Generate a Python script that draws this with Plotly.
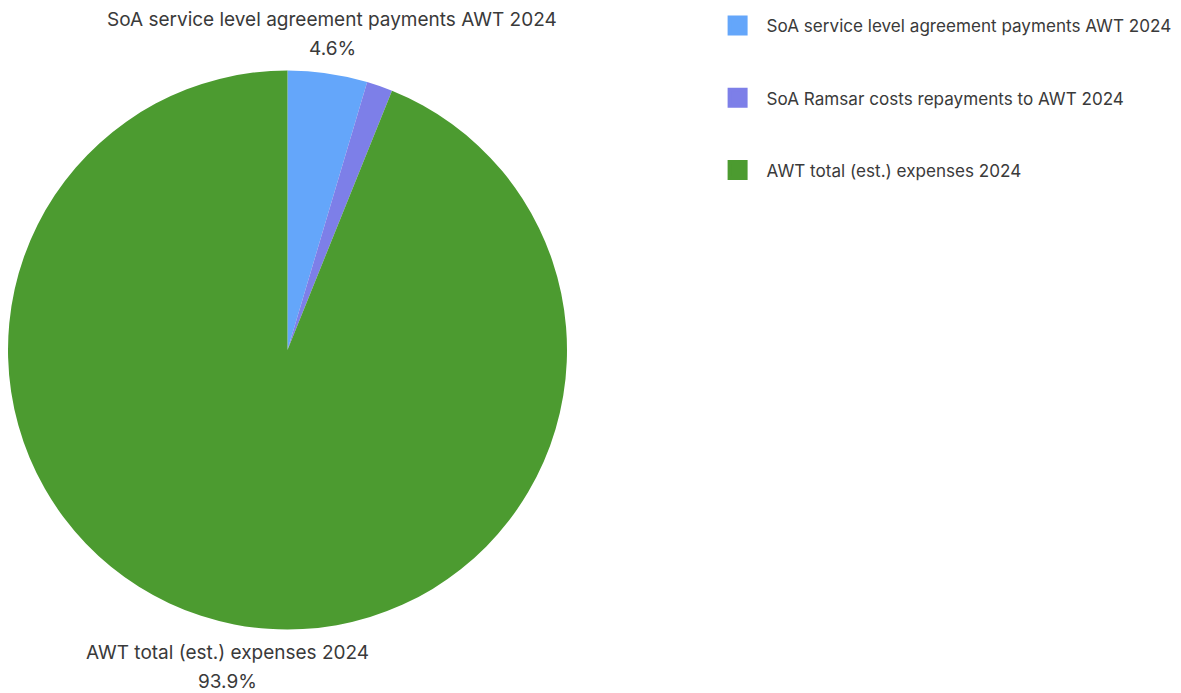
import math
import plotly.graph_objects as go

labels = ["SoA service level agreement payments AWT 2024",
          "SoA Ramsar costs repayments to AWT 2024",
          "AWT total (est.) expenses 2024"]
values = [4.6, 1.5, 93.9]
colors = ["#64A6FA", "#7D7FE8", "#4C9B30"]
show_label = [True, False, True]

OFF = 8                      # page body margin
W, H = 1181, 693 - OFF
CX, CY, R = 287 - OFF, 350 - OFF, 280  # pie centre and radius in figure pixels
LEGEND_LEFT = 0.6 * 1181 - 8           # legend left edge in figure pixels
TEXT_COLOR = "#3a3a3a"

fig = go.Figure()
fig.add_trace(go.Pie(
    labels=labels, values=values, sort=False, direction="clockwise", rotation=0,
    marker=dict(colors=colors, line=dict(width=0)),
    textinfo="none", showlegend=False, hoverinfo="label+percent",
    domain=dict(x=[max(0, (CX - R) / W), min(1, (CX + R) / W)],
                y=[max(0, 1 - (CY + R) / H), min(1, 1 - (CY - R) / H)]),
))

# outside labels, placed from the slice mid-angles
total = sum(values)
cum = 0.0
annotations = []
for lab, v, show in zip(labels, values, show_label):
    mid = (cum + v / 2) / total * 2 * math.pi
    cum += v
    if not show:
        continue
    px = CX + (R + 35) * math.sin(mid)
    py = CY - R * math.cos(mid)
    pct = f"{v / total * 100:.1f}%"
    if math.cos(mid) > 0:   # upper half: text above
        lines = [(lab, py - 53), (pct, py - 24)]
    else:
        lines = [(lab, py + 28), (pct, py + 57)]
    for txt, ly in lines:
        annotations.append(dict(
            x=px / W, y=1 - ly / H, xref="paper", yref="paper", text=txt,
            showarrow=False, xanchor="center", yanchor="middle",
            font=dict(family="Inter", size=19, color=TEXT_COLOR),
        ))

for i, (lab, col) in enumerate(zip(labels, colors)):
    fig.add_trace(go.Scatter(
        x=[None], y=[None], mode="markers", name=lab, legendgroup=f"g{i}",
        marker=dict(symbol="square", size=16, color=col, line=dict(color=col, width=4)),
        hoverinfo="skip",
    ))

fig.update_layout(
    width=W, height=H,
    margin=dict(l=0, r=0, t=0, b=0, autoexpand=False),
    paper_bgcolor="white", plot_bgcolor="white",
    font=dict(family="Inter", color=TEXT_COLOR),
    xaxis=dict(visible=False), yaxis=dict(visible=False),
    annotations=annotations,
    legend=dict(x=LEGEND_LEFT / W, y=1, xanchor="left", yanchor="top",
                font=dict(family="Inter", size=17.1, color=TEXT_COLOR),
                tracegroupgap=47, itemwidth=48, bgcolor="rgba(0,0,0,0)"),
)

fig.write_html("out.html")
